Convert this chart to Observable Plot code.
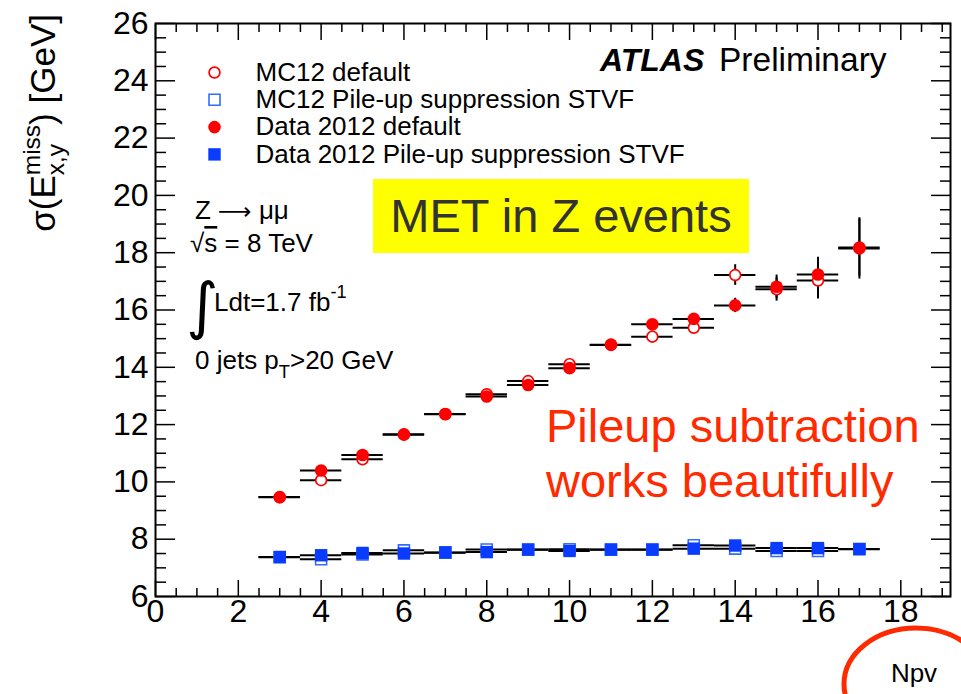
<!DOCTYPE html>
<html>
<head>
<meta charset="utf-8">
<script src="https://cdn.jsdelivr.net/npm/d3@7"></script>
<script src="https://cdn.jsdelivr.net/npm/@observablehq/plot@0.6"></script>
<style>
  html, body { margin: 0; padding: 0; background: #fff; overflow: hidden; }
  #chart svg { display: block; }
</style>
</head>
<body>
<div id="chart"></div>
<script>
// Number of reconstructed primary vertices (bin centres)
const npv = [3, 4, 5, 6, 7, 8, 9, 10, 11, 12, 13, 14, 15, 16, 17];

// sigma(E_x,y^miss) in GeV, default reconstruction
const dataDefault    = [9.47, 10.40, 10.94, 11.66, 12.37, 12.98, 13.38, 13.97, 14.79, 15.50, 15.69, 16.16, 16.81, 17.24, 18.15];
const dataDefaultErr = [0.03, 0.03, 0.03, 0.03, 0.04, 0.04, 0.05, 0.05, 0.06, 0.08, 0.12, 0.25, 0.41, 0.60, 1.07];
const mcDefault      = [9.46, 10.06, 10.79, 11.65, 12.36, 13.06, 13.52, 14.11, 14.78, 15.07, 15.38, 17.22, 16.72, 17.03, 18.18];
const mcDefaultErr   = [0.05, 0.06, 0.06, 0.07, 0.08, 0.09, 0.10, 0.11, 0.13, 0.15, 0.18, 0.36, 0.41, 0.65, 1.00];

// sigma(E_x,y^miss) in GeV, with STVF pile-up suppression
const dataStvf    = [7.38, 7.44, 7.52, 7.50, 7.54, 7.55, 7.64, 7.59, 7.64, 7.64, 7.67, 7.78, 7.69, 7.69, 7.66];
const dataStvfErr = [0.02, 0.02, 0.02, 0.02, 0.02, 0.02, 0.02, 0.03, 0.03, 0.04, 0.05, 0.07, 0.09, 0.12, 0.15];
const mcStvf      = [7.37, 7.30, 7.47, 7.61, 7.53, 7.64, 7.63, 7.65, 7.63, 7.63, 7.79, 7.67, 7.59, 7.59, 7.65];
const mcStvfErr   = [0.02, 0.02, 0.02, 0.02, 0.03, 0.03, 0.03, 0.03, 0.04, 0.05, 0.06, 0.08, 0.10, 0.13, 0.17];

const seriesLabels = [
  "MC12 default",
  "MC12 Pile-up suppression STVF",
  "Data 2012 default",
  "Data 2012 Pile-up suppression STVF"
];

// Axis ticks
const xTickLabels = [0, 2, 4, 6, 8, 10, 12, 14, 16, 18];
const yTickLabels = [6, 8, 10, 12, 14, 16, 18, 20, 22, 24, 26];
const xMinorTicks = [0.5, 1, 1.5, 2.5, 3, 3.5, 4.5, 5, 5.5, 6.5, 7, 7.5, 8.5, 9, 9.5, 10.5, 11, 11.5,
                     12.5, 13, 13.5, 14.5, 15, 15.5, 16.5, 17, 17.5, 18.5, 19];
const yMinorTicks = [6.5, 7, 7.5, 8.5, 9, 9.5, 10.5, 11, 11.5, 12.5, 13, 13.5, 14.5, 15, 15.5, 16.5, 17, 17.5,
                     18.5, 19, 19.5, 20.5, 21, 21.5, 22.5, 23, 23.5, 24.5, 25, 25.5];

const RED = "#ff0000";
const BLUE = "#0a3cff";
const BLUE_OPEN = "#2f6dff";
const NOTE_RED = "#ff2a00";
const FONT = "'Liberation Sans', Arial, Helvetica, sans-serif";

const W = 961, H = 694;
const M = {left: 155, right: 11, top: 23, bottom: 98};
const HALF_BIN = 0.5;

const toRows = (values, errs) => npv.map((x, i) => ({x, v: values[i], e: errs[i]}));

const series = [
  {label: seriesLabels[0], rows: toRows(mcDefault, mcDefaultErr), symbol: "circle", fill: "white", stroke: RED, r: 5.4, sw: 1.7},
  {label: seriesLabels[1], rows: toRows(mcStvf, mcStvfErr), symbol: "square", fill: "white", stroke: BLUE_OPEN, r: 6.2, sw: 1.6},
  {label: seriesLabels[2], rows: toRows(dataDefault, dataDefaultErr), symbol: "circle", fill: RED, stroke: "none", r: 6.3, sw: 0},
  {label: seriesLabels[3], rows: toRows(dataStvf, dataStvfErr), symbol: "square", fill: BLUE, stroke: "none", r: 7.0, sw: 0}
];

// Error bars: horizontal = bin width, vertical = statistical uncertainty
const errorBars = series.flatMap(s => [
  Plot.ruleY(s.rows, {y: "v", x1: d => d.x - HALF_BIN, x2: d => d.x + HALF_BIN, stroke: "black", strokeWidth: 2}),
  Plot.ruleX(s.rows, {x: "x", y1: d => d.v - d.e, y2: d => d.v + d.e, stroke: "black", strokeWidth: 2})
]);

const markers = series.map(s =>
  Plot.dot(s.rows, {x: "x", y: "v", symbol: s.symbol, r: s.r, fill: s.fill, stroke: s.stroke, strokeWidth: s.sw})
);

// Legend entries in the upper-left corner of the frame
const legend = series.flatMap((s, i) => [
  Plot.dot([s], {frameAnchor: "top-left", dx: 59, dy: 49 + i * 27.3, symbol: s.symbol, r: s.r,
                 fill: s.fill, stroke: s.stroke, strokeWidth: s.sw}),
  Plot.text([s.label], {frameAnchor: "top-left", dx: 100, dy: 49 + i * 27.3, text: d => d,
                        textAnchor: "start", lineAnchor: "middle", fontSize: 26, fill: "black"})
]);

// Inward-pointing ticks on all four sides, ROOT style
const tickStyle = {label: null, tickFormat: () => "", strokeWidth: 1.5};
const axes = [
  Plot.axisX({ticks: xTickLabels, anchor: "bottom", tickSize: 0, tickPadding: 3, fontSize: 32, label: null}),
  Plot.axisY({ticks: yTickLabels, anchor: "left", tickSize: 0, tickPadding: 7, fontSize: 32, label: null}),
  Plot.axisX({...tickStyle, ticks: xTickLabels, anchor: "bottom", tickSize: 16, dy: -16}),
  Plot.axisX({...tickStyle, ticks: xMinorTicks, anchor: "bottom", tickSize: 8, dy: -8}),
  Plot.axisX({...tickStyle, ticks: xTickLabels, anchor: "top", tickSize: 16, dy: 16}),
  Plot.axisX({...tickStyle, ticks: xMinorTicks, anchor: "top", tickSize: 8, dy: 8}),
  Plot.axisY({...tickStyle, ticks: yTickLabels, anchor: "left", tickSize: 20, dx: 20}),
  Plot.axisY({...tickStyle, ticks: yMinorTicks, anchor: "left", tickSize: 11, dx: 11}),
  Plot.axisY({...tickStyle, ticks: yTickLabels, anchor: "right", tickSize: 20, dx: -20}),
  Plot.axisY({...tickStyle, ticks: yMinorTicks, anchor: "right", tickSize: 11, dx: -11})
];

const chart = Plot.plot({
  width: W,
  height: H,
  marginLeft: M.left,
  marginRight: M.right,
  marginTop: M.top,
  marginBottom: M.bottom,
  x: {domain: [0, 19.2]},
  y: {domain: [6, 26]},
  style: {fontFamily: FONT, background: "white", color: "black", overflow: "hidden"},
  marks: [
    ...axes,
    ...errorBars,
    ...markers,
    ...legend,
    Plot.frame({stroke: "black", strokeWidth: 2})
  ]
});

document.getElementById("chart").appendChild(chart);

// ---- Text annotations with sub/superscripts ----
const svg = d3.select(chart);
const notes = svg.append("g")
  .attr("font-family", FONT)
  .attr("fill", "black")
  .attr("text-anchor", "start");

// Append a run of styled pieces into one <text>; pieces may be raised, lowered or stacked
function richText(parent, {x, y, size, anchor = "start", rotate = 0, fill = "black"}, pieces) {
  const t = parent.append("text")
    .attr("transform", `translate(${x},${y}) rotate(${rotate})`)
    .attr("font-size", size)
    .attr("text-anchor", anchor)
    .attr("fill", fill);
  let shift = 0;       // current baseline offset
  let prev = null;     // previous tspan node, used for stacking
  for (const p of pieces) {
    const ts = t.append("tspan").text(p.t);
    const fs = p.scale ? size * p.scale : size;
    ts.attr("font-size", fs);
    const target = p.shift ? p.shift * size : 0;
    if (target !== shift) ts.attr("dy", target - shift);
    shift = target;
    if (p.stackUnder && prev) ts.attr("dx", -prev.getComputedTextLength());
    if (p.afterStack) ts.attr("dx", p.afterStack());
    if (p.dx) ts.attr("dx", p.dx);
    if (p.style) ts.attr("style", p.style);
    if (p.family) ts.attr("font-family", p.family);
    prev = ts.node();
    p.node = prev;
  }
  return t;
}

// Y-axis title: sigma(E^miss_x,y) [GeV]
{
  const sup = {t: "miss", scale: 0.7, shift: -0.42};
  const sub = {t: "x,y", scale: 0.7, shift: 0.25, stackUnder: true};
  richText(notes, {x: 55, y: 14, size: 35, anchor: "end", rotate: -90}, [
    {t: "σ(E"},
    sup,
    sub,
    {t: ") [GeV]", shift: 0, afterStack: () => Math.max(0, sup.node.getComputedTextLength() - sub.node.getComputedTextLength())}
  ]);
}

// ATLAS label
notes.append("text").attr("x", 600).attr("y", 71).attr("font-size", 32)
  .attr("font-weight", "bold").attr("font-style", "italic").text("ATLAS");
notes.append("text").attr("x", 719).attr("y", 71).attr("font-size", 33.5).text("Preliminary");

// Selection details
richText(notes, {x: 195, y: 219, size: 26}, [
  {t: "Z "},
  {t: "⟶", family: "'DejaVu Sans', sans-serif", scale: 0.9},
  {t: " μμ"}
]);
richText(notes, {x: 190, y: 252, size: 26}, [
  {t: "√"},
  {t: "s", style: "text-decoration: overline"},
  {t: " = 8 TeV"}
]);
notes.append("text").attr("x", 186).attr("y", 327).attr("font-size", 62)
  .attr("font-family", "'DejaVu Sans', sans-serif").text("∫");
richText(notes, {x: 214, y: 311, size: 26}, [
  {t: "Ldt=1.7 fb"},
  {t: "-1", scale: 0.7, shift: -0.5}
]);
richText(notes, {x: 195, y: 369, size: 26}, [
  {t: "0 jets p"},
  {t: "T", scale: 0.7, shift: 0.35},
  {t: ">20 GeV", shift: 0}
]);

// Highlighted title box
notes.append("rect").attr("x", 373).attr("y", 179).attr("width", 376).attr("height", 74).attr("fill", "#ffff00");
notes.append("text").attr("x", 561).attr("y", 232).attr("font-size", 47)
  .attr("text-anchor", "middle").attr("fill", "#333333").text("MET in Z events");

// Comment on the STVF curves
notes.append("text").attr("x", 546).attr("y", 442).attr("font-size", 47).attr("fill", NOTE_RED).text("Pileup subtraction");
notes.append("text").attr("x", 546).attr("y", 497).attr("font-size", 47).attr("fill", NOTE_RED).text("works beautifully");

// X-axis title, circled
notes.append("text").attr("x", 914).attr("y", 682).attr("font-size", 26)
  .attr("text-anchor", "middle").text("Npv");
notes.append("ellipse").attr("cx", 916).attr("cy", 684).attr("rx", 72).attr("ry", 56)
  .attr("fill", "none").attr("stroke", NOTE_RED).attr("stroke-width", 5);
</script>
</body>
</html>
